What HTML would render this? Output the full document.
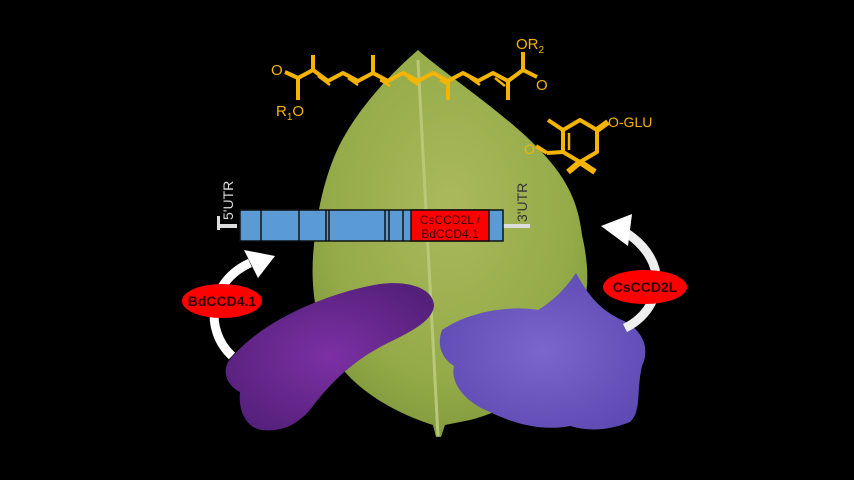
<!DOCTYPE html>
<html><head><meta charset="utf-8"><style>
html,body{margin:0;padding:0;background:#000;}
svg{display:block;font-family:"Liberation Sans",sans-serif;}
</style></head><body>
<svg width="854" height="480" viewBox="0 0 854 480" xmlns="http://www.w3.org/2000/svg">
<defs>
<radialGradient id="lg" cx="0.5" cy="0.4" r="0.65"><stop offset="0" stop-color="#aab95c"/><stop offset="0.7" stop-color="#94aa48"/><stop offset="1" stop-color="#7c963a"/></radialGradient>
<radialGradient id="bp" cx="0.5" cy="0.5" r="0.6"><stop offset="0" stop-color="#7c30a4"/><stop offset="1" stop-color="#54207a"/></radialGradient>
<radialGradient id="sp" cx="0.5" cy="0.5" r="0.6"><stop offset="0" stop-color="#7a66cc"/><stop offset="1" stop-color="#5d4ab2"/></radialGradient>
</defs>
<rect width="854" height="480" fill="#000"/>
<!-- leaf -->
<path d="M418,50 C440,70 500,110 535,145 C565,175 578,200 582,235 C590,270 590,300 575,325 C565,360 530,405 470,420 L445,425 L441,437 L436,437 L433,425 C400,415 350,390 330,350 C314,320 310,280 314,245 C318,200 330,160 345,135 C365,100 395,70 418,50 Z" fill="url(#lg)"/>
<path d="M418,60 L438,436" stroke="#b8c878" stroke-width="3" fill="none"/>
<!-- buddleja -->
<path d="M228,362 C260,320 330,292 380,284 C412,280 434,290 434,306 C432,322 410,332 382,346 C352,362 332,382 316,402 C300,425 282,432 262,430 C246,428 238,410 240,392 C228,386 222,374 228,362 Z" fill="url(#bp)"/>
<!-- saffron -->
<path d="M442,330 C468,312 508,305 538,310 C558,298 570,282 576,273 C588,295 600,310 622,320 C644,330 650,350 642,366 C636,392 642,410 630,422 C610,430 590,432 570,426 C540,432 510,422 490,412 C464,402 450,382 454,366 C438,356 438,340 442,330 Z" fill="url(#sp)"/>
<!-- arrows -->
<path d="M232,356 C204,330 208,282 250,263" stroke="#fff" stroke-width="9" fill="none"/>
<polygon points="244,250 275,256 258,278" fill="#fff"/>
<path d="M625,328 C662,310 672,262 625,232" stroke="#eee" stroke-width="9" fill="none"/>
<polygon points="601,226 632,214 628,246" fill="#fff"/>
<!-- gene -->
<rect x="217" y="224" width="20" height="4" fill="#ddd"/>
<rect x="503" y="224" width="27" height="4" fill="#ddd"/>
<rect x="217" y="216" width="3" height="14" fill="#ddd"/>
<rect x="240" y="210" width="263" height="31" fill="#5b9bd5" stroke="#111" stroke-width="1.5"/>
<g stroke="#111" stroke-width="1.5">
<line x1="261" y1="210" x2="261" y2="241"/><line x1="299" y1="210" x2="299" y2="241"/>
<line x1="326" y1="210" x2="326" y2="241"/><line x1="329" y1="210" x2="329" y2="241"/>
<line x1="385" y1="210" x2="385" y2="241"/><line x1="389" y1="210" x2="389" y2="241"/>
<line x1="403" y1="210" x2="403" y2="241"/>
</g>
<rect x="411" y="210" width="78" height="31" fill="#f00" stroke="#111" stroke-width="1.5"/>
<text x="450" y="224" font-size="12" fill="#300" text-anchor="middle">CsCCD2L /</text>
<text x="450" y="238" font-size="12" fill="#300" text-anchor="middle">BdCCD4.1</text>
<text transform="translate(233,220) rotate(-90)" font-size="14" fill="#ddd">5'UTR</text>
<text transform="translate(527,222) rotate(-90)" font-size="14" fill="#333">3'UTR</text>
<!-- labels -->
<ellipse cx="222" cy="301" rx="40" ry="17" fill="#f00"/>
<text x="222" y="306" font-size="14" font-weight="bold" fill="#300" text-anchor="middle">BdCCD4.1</text>
<ellipse cx="645" cy="287" rx="42" ry="17" fill="#f00"/>
<text x="645" y="292" font-size="14" font-weight="bold" fill="#300" text-anchor="middle">CsCCD2L</text>
<!-- crocetin chain -->
<g stroke="#f5b400" stroke-width="4" fill="none" stroke-linejoin="round">
<polyline points="298,100 298,78 313,70 328,81 343,73 358,81 373,73 388,81 403,73 418,81 433,73 448,81 463,73 478,81 493,73 508,81 523,70 523,52"/>
<line x1="313" y1="70" x2="313" y2="55"/><line x1="373" y1="73" x2="373" y2="55"/>
<line x1="448" y1="81" x2="448" y2="100"/><line x1="508" y1="81" x2="508" y2="100"/>
<line x1="298" y1="78" x2="285" y2="72"/><line x1="523" y1="70" x2="537" y2="77"/>
<g stroke-width="2.5"><line x1="318" y1="76" x2="330" y2="85"/><line x1="348" y1="78" x2="358" y2="85"/><line x1="380" y1="80" x2="390" y2="86"/><line x1="408" y1="78" x2="418" y2="85"/><line x1="440" y1="80" x2="450" y2="86"/><line x1="470" y1="78" x2="480" y2="85"/><line x1="495" y1="78" x2="505" y2="86"/></g>
<!-- ring -->
<polygon points="580,120 597,130 597,152 580,162 563,152 563,130"/>
<line x1="569" y1="133" x2="569" y2="150" stroke-width="2.5"/>
<line x1="563" y1="130" x2="548" y2="120"/>
<line x1="563" y1="152" x2="547" y2="153"/><line x1="547" y1="153" x2="536" y2="146"/>
<line x1="597" y1="130" x2="608" y2="122" stroke-width="6"/>
<line x1="580" y1="162" x2="568" y2="172" stroke-width="6"/><line x1="580" y1="162" x2="595" y2="172" stroke-width="6"/>
</g>
<g fill="#f5b400" font-size="15">
<text x="271" y="75">O</text>
<text x="276" y="116">R<tspan font-size="10" dy="4">1</tspan><tspan dy="-4">O</tspan></text>
<text x="516" y="49">OR<tspan font-size="10" dy="4">2</tspan></text>
<text x="536" y="90">O</text>
<text x="608" y="127" font-size="14">O-GLU</text>
<text x="524" y="154" font-size="14">O</text>
</g>
</svg>
</body></html>
